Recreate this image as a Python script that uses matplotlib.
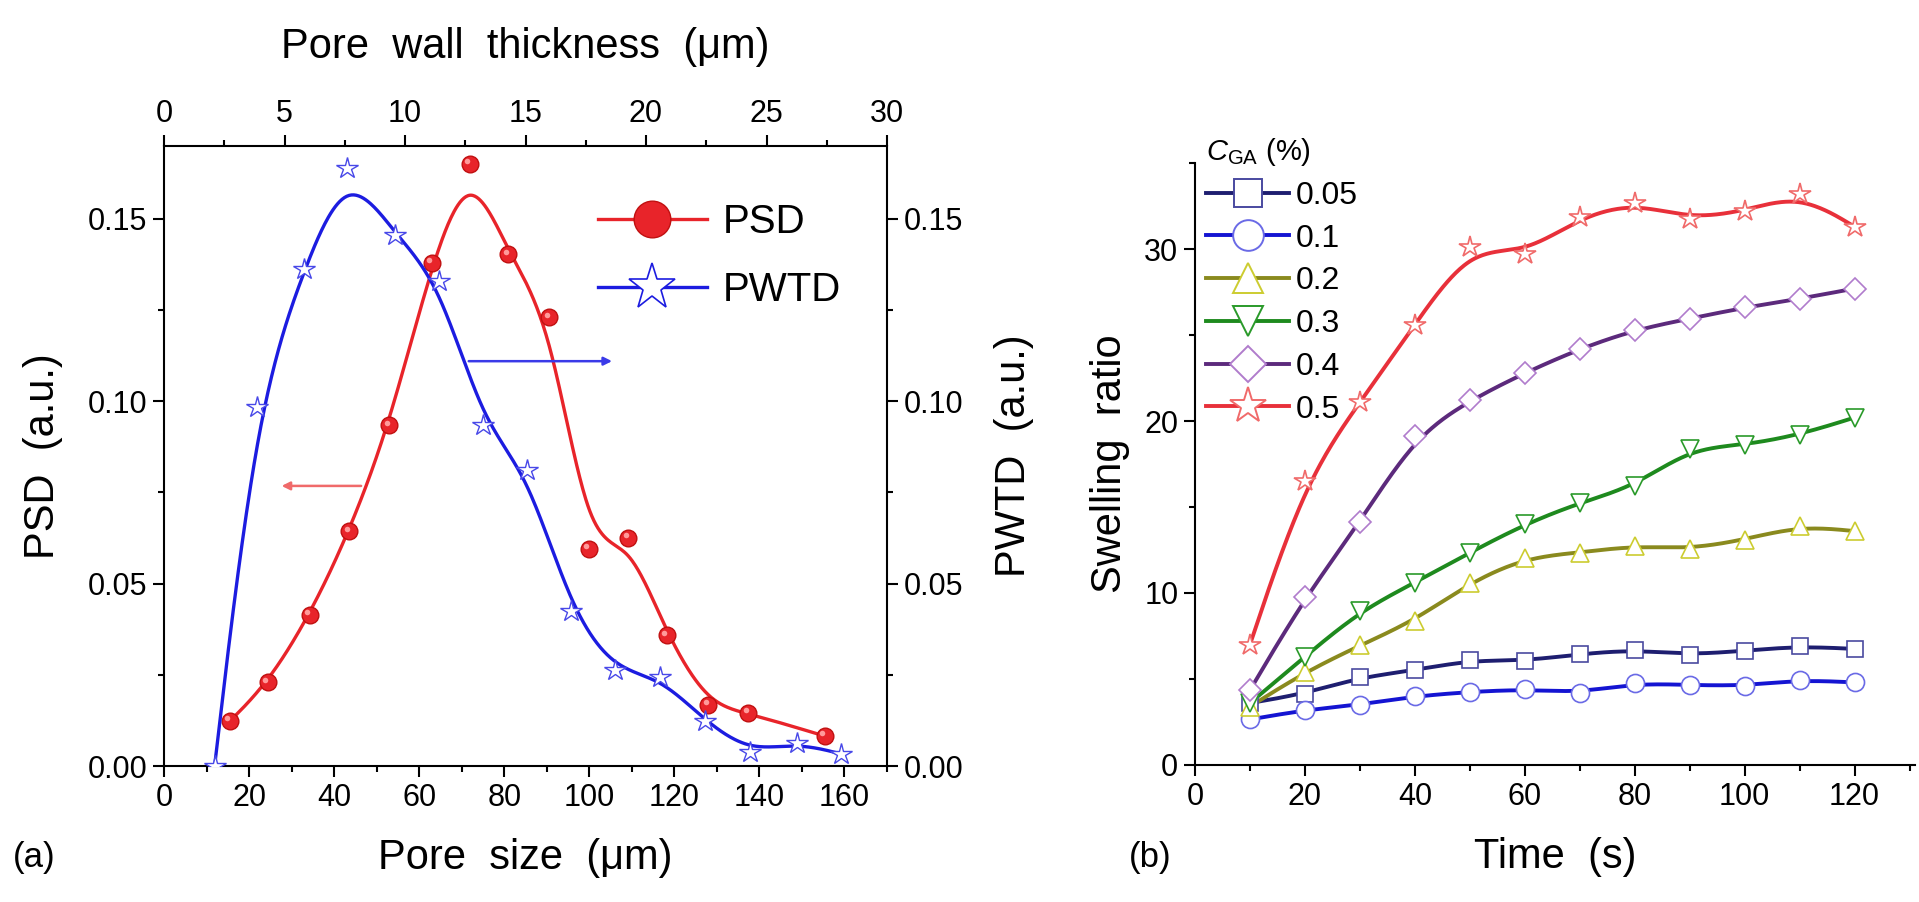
import matplotlib
matplotlib.use('Agg')
import matplotlib.pyplot as plt
import numpy as np
from matplotlib import font_manager
from matplotlib.ticker import MultipleLocator
from matplotlib.lines import Line2D
from matplotlib.transforms import offset_copy

# fonts: Arial-like, tick labels a bit condensed if a narrow face exists
names = {f.name for f in font_manager.fontManager.ttflist}
main_font = 'Liberation Sans'
narrow_font = 'Liberation Sans Narrow' if 'Liberation Sans Narrow' in names else main_font
plt.rcParams['font.family'] = [main_font, 'DejaVu Sans']
plt.rcParams['mathtext.fontset'] = 'custom'
plt.rcParams['mathtext.rm'] = main_font
plt.rcParams['mathtext.it'] = main_font + ':italic'

# ---- (a) pore size / pore wall thickness distributions ----
psd_size = [15.5, 24.5, 34.3, 43.6, 53.0, 62.9, 71.9, 81.0, 90.6, 99.9, 109.2, 118.2, 128.0, 137.4, 155.4]
psd = [0.0123, 0.0229, 0.0414, 0.0643, 0.0934, 0.1379, 0.1652, 0.1403, 0.1230,
       0.0595, 0.0626, 0.0358, 0.0168, 0.0145, 0.0082]

pwtd_thick = [2.1, 3.85, 5.8, 7.6, 9.6, 11.4, 13.25, 15.05, 16.9, 18.7, 20.6, 22.45, 24.3, 26.25, 28.1]
pwtd = [0.0, 0.0984, 0.1364, 0.1640, 0.1457, 0.1331, 0.0934, 0.0811, 0.0425,
        0.0263, 0.0243, 0.0123, 0.0039, 0.0064, 0.0033]

# ---- (b) swelling ratio vs time ----
time_s = [10, 20, 30, 40, 50, 60, 70, 80, 90, 100, 110, 120]
sr_005 = [3.6, 4.15, 5.1, 5.5, 6.1, 6.05, 6.45, 6.7, 6.4, 6.65, 6.9, 6.75]
sr_01 = [2.65, 3.2, 3.5, 4.0, 4.25, 4.4, 4.2, 4.75, 4.65, 4.6, 4.95, 4.8]
sr_02 = [3.4, 5.4, 6.95, 8.4, 10.6, 12.05, 12.35, 12.75, 12.55, 13.1, 13.9, 13.6]
sr_03 = [3.6, 6.3, 8.95, 10.6, 12.35, 14.0, 15.25, 16.2, 18.4, 18.6, 19.2, 20.2]
sr_04 = [4.35, 9.75, 14.1, 19.1, 21.2, 22.8, 24.2, 25.3, 25.95, 26.6, 27.1, 27.7]
sr_05 = [7.0, 16.5, 21.1, 25.6, 30.1, 29.7, 31.85, 32.7, 31.75, 32.2, 33.2, 31.3]
cga_labels = ['0.05', '0.1', '0.2', '0.3', '0.4', '0.5']


def bspline(x, y, n=40):
    # clamped uniform cubic B-spline, data points used as control points
    px = np.r_[x[0], x[0], x, x[-1], x[-1]]
    py = np.r_[y[0], y[0], y, y[-1], y[-1]]
    t = np.linspace(0, 1, n)
    b0 = (1 - t) ** 3 / 6
    b1 = (3 * t ** 3 - 6 * t ** 2 + 4) / 6
    b2 = (-3 * t ** 3 + 3 * t ** 2 + 3 * t + 1) / 6
    b3 = t ** 3 / 6
    xs, ys = [], []
    for i in range(len(px) - 3):
        xs.append(b0 * px[i] + b1 * px[i + 1] + b2 * px[i + 2] + b3 * px[i + 3])
        ys.append(b0 * py[i] + b1 * py[i + 1] + b2 * py[i + 2] + b3 * py[i + 3])
    return np.concatenate(xs), np.concatenate(ys)


def narrow_ticks(ax):
    for lbl in ax.get_xticklabels() + ax.get_yticklabels():
        lbl.set_fontfamily(narrow_font)


W, H = 1919, 902
fig = plt.figure(figsize=(W / 100, H / 100), dpi=100)

tick_kw = dict(direction='out', width=1.5, labelsize=22, pad=4)
lab_fs = 30

# ------------------------- panel (a) -------------------------
ax = fig.add_axes([164 / W, (H - 766) / H, 723 / W, 620 / H])
ax_t = fig.add_axes([164 / W, (H - 766) / H, 723 / W, 620 / H], frameon=False)

red = '#e8242a'
blue = '#1c1ce0'

sx, sy = bspline(psd_size, psd)
ax.plot(sx, sy, color=red, lw=2.4, zorder=2)
ax.plot(psd_size, psd, ls='none', marker='o', ms=12, mfc=red, mec='#c01010', zorder=3)
# small highlight so the dots read as spheres
hl = offset_copy(ax.transData, fig=fig, x=-2, y=2, units='points')
ax.plot(psd_size, psd, ls='none', marker='o', ms=4, mfc='#ff9a9a', mec='none', zorder=4, transform=hl)

tx, ty = bspline(pwtd_thick, pwtd)
ax_t.plot(tx, ty, color=blue, lw=2.4, zorder=2)
ax_t.plot(pwtd_thick, pwtd, ls='none', marker='*', ms=16, mfc='white', mec='#4848e8', mew=1.0, zorder=3)

ax.set_xlim(0, 170)
ax.set_ylim(0, 0.17)
ax_t.set_xlim(0, 30)
ax_t.set_ylim(0, 0.17)

ax.xaxis.set_major_locator(MultipleLocator(20))
ax.xaxis.set_minor_locator(MultipleLocator(10))
ax.yaxis.set_major_locator(MultipleLocator(0.05))
ax.yaxis.set_minor_locator(MultipleLocator(0.025))
ax.yaxis.set_major_formatter(plt.FormatStrFormatter('%.2f'))
ax.tick_params(which='major', length=8, **tick_kw)
ax.tick_params(which='minor', length=4, direction='out', width=1.5)

ax_t.xaxis.tick_top()
ax_t.xaxis.set_label_position('top')
ax_t.yaxis.tick_right()
ax_t.yaxis.set_label_position('right')
ax_t.xaxis.set_major_locator(MultipleLocator(5))
ax_t.xaxis.set_minor_locator(MultipleLocator(2.5))
ax_t.yaxis.set_major_locator(MultipleLocator(0.05))
ax_t.yaxis.set_minor_locator(MultipleLocator(0.025))
ax_t.yaxis.set_major_formatter(plt.FormatStrFormatter('%.2f'))
ax_t.tick_params(which='major', length=8, **tick_kw)
ax_t.tick_params(which='minor', length=4, direction='out', width=1.5)

for s in ax.spines.values():
    s.set_linewidth(1.5)

ax.set_xlabel('Pore  size  (\u03bcm)', fontsize=lab_fs, labelpad=18)
ax.set_ylabel('PSD  (a.u.)', fontsize=lab_fs, labelpad=18)
ax_t.set_xlabel('Pore  wall  thickness  (\u03bcm)', fontsize=lab_fs, labelpad=30)
ax_t.set_ylabel('PWTD  (a.u.)', fontsize=lab_fs, labelpad=22)
narrow_ticks(ax)
narrow_ticks(ax_t)

# arrows pointing to the matching axis
ax.annotate('', xy=(27, 0.0768), xytext=(47, 0.0768),
            arrowprops=dict(arrowstyle='-|>', color='#f06a6a', lw=1.8, mutation_scale=12))
ax.annotate('', xy=(106, 0.111), xytext=(71, 0.111),
            arrowprops=dict(arrowstyle='-|>', color='#3a3ae8', lw=1.8, mutation_scale=12))

h_psd = Line2D([], [], color=red, lw=2.4, marker='o', ms=12, mfc=red, mec='#c01010')
h_pwtd = Line2D([], [], color=blue, lw=2.4, marker='*', ms=16, mfc='white', mec=blue, mew=1.2)
ax_t.legend([h_psd, h_pwtd], ['PSD', 'PWTD'], loc='center left', bbox_to_anchor=(0.60, 0.822),
            frameon=False, fontsize=29, markerscale=2.2, handlelength=2.7, handletextpad=0.4,
            labelspacing=0.75, borderpad=0, borderaxespad=0)

fig.text(34 / W, 1 - 857 / H, '(a)', fontsize=25, ha='center', va='center')

# ------------------------- panel (b) -------------------------
bx = fig.add_axes([1195 / W, (H - 765) / H, 720 / W, 602 / H])

series = [sr_005, sr_01, sr_02, sr_03, sr_04, sr_05]
line_cols = ['#1e1e70', '#1414d2', '#8a8a1e', '#1e8a1e', '#5c2a7c', '#e8303a']
edge_cols = ['#4a4aa0', '#6a6ae6', '#cccc30', '#2a9a2a', '#b07ccc', '#f06a6a']
markers = ['s', 'o', '^', 'v', 'D', '*']
msizes = [12, 13, 13, 13, 11, 16]

handles = []
for vals, lc, ec, mk, ms in zip(series, line_cols, edge_cols, markers, msizes):
    cx, cy = bspline(time_s, vals)
    bx.plot(cx, cy, color=lc, lw=2.8, zorder=2)
    bx.plot(time_s, vals, ls='none', marker=mk, ms=ms, mfc='white', mec=ec, mew=1.2, zorder=3)
    handles.append(Line2D([], [], color=lc, lw=2.8, marker=mk, ms=ms, mfc='white', mec=ec, mew=1.4))

bx.set_xlim(0, 131)
bx.set_ylim(0, 35)
bx.xaxis.set_major_locator(MultipleLocator(20))
bx.xaxis.set_minor_locator(MultipleLocator(10))
bx.yaxis.set_major_locator(MultipleLocator(10))
bx.yaxis.set_minor_locator(MultipleLocator(5))
bx.tick_params(which='major', length=8, **tick_kw)
bx.tick_params(which='minor', length=4, direction='out', width=1.5)
bx.spines['top'].set_visible(False)
bx.spines['right'].set_visible(False)
for s in ('left', 'bottom'):
    bx.spines[s].set_linewidth(1.5)

bx.set_xlabel('Time  (s)', fontsize=lab_fs, labelpad=18)
bx.set_ylabel('Swelling  ratio', fontsize=lab_fs, labelpad=10)
narrow_ticks(bx)

leg = fig.legend(handles, cga_labels, loc='upper left', bbox_to_anchor=(1190 / W, 1 - 120 / H),
                 frameon=False, prop={'family': narrow_font, 'size': 23},
                 title=r'$C_{\mathrm{GA}}$ (%)', title_fontsize=21, alignment='left',
                 markerscale=1.7, handlelength=2.6, handletextpad=0.2, labelspacing=0.4,
                 borderpad=0)

fig.text(1150 / W, 1 - 857 / H, '(b)', fontsize=25, ha='center', va='center')

fig.savefig('out.png', dpi=100, facecolor='white')
